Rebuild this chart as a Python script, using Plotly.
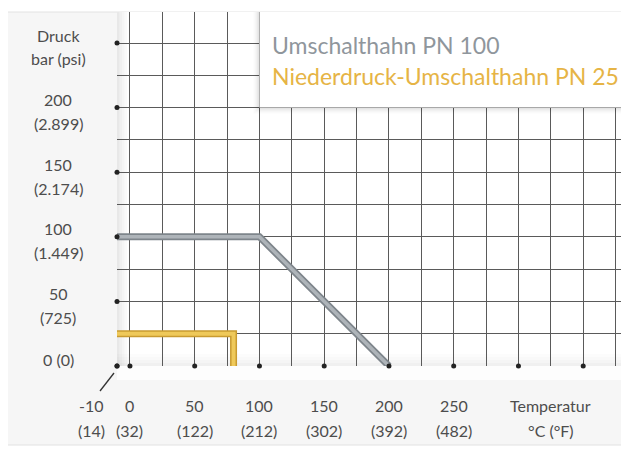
import plotly.graph_objects as go

# ---------------- data ----------------
temp_ticks = [-10, 0, 50, 100, 150, 200, 250]
temp_labels_c = ["-10", "0", "50", "100", "150", "200", "250"]
temp_labels_f = ["(14)", "(32)", "(122)", "(212)", "(302)", "(392)", "(482)"]
temp_dot_ticks = [-10, 0, 50, 100, 150, 200, 250, 300, 350]
temp_title = ["Temperatur", "°C (°F)"]
temp_title_at = 325

press_ticks = [0, 50, 100, 150, 200]
press_labels_bar = ["0 (0)", "50", "100", "150", "200"]
press_labels_psi = ["", "(725)", "(1.449)", "(2.174)", "(2.899)"]
press_dot_ticks = [0, 50, 100, 150, 200, 250]
press_title = ["Druck", "bar (psi)"]
press_title_at = 250

pn100_temp = [-10, 100, 200]
pn100_press = [100, 100, 0]
pn25_temp = [-10, 80, 80]
pn25_press = [25, 25, 0]
series_names = ["Umschalthahn PN 100", "Niederdruck-Umschalthahn PN 25"]

# ---------------- layout geometry (page pixels; page body has 8px margin) ----------------
OFF = 8
PAGE_W, PAGE_H = 629, 453
W, H = PAGE_W - OFF, PAGE_H - OFF
AX_LEFT, AX_TOP, AX_BOTTOM = 117, 12, 366      # page pixels
L, T = AX_LEFT - OFF, AX_TOP - OFF
B = PAGE_H - AX_BOTTOM
R = 0
PW, PH = W - L - R, H - T - B
X0 = -10
XPX = 1.295            # pixels per degree
YPX = 1.292            # pixels per bar
XMAX = X0 + PW / XPX
YMAX = PH / YPX

FONT = "Lato"
LABEL_COL = "#4d4d4d"
GRID_COL = "#5a5a5a"
FS = 16

def pxx(px):   # page x pixel -> paper
    return (px - AX_LEFT) / PW

def pxy(py):   # page y pixel -> paper
    return (AX_BOTTOM - py) / PH

fig = go.Figure()

# series: tube-like lines (dark outer + light inner)
fig.add_trace(go.Scatter(x=pn100_temp, y=pn100_press, mode="lines",
                         line=dict(color="#7e858b", width=7), name=series_names[0],
                         showlegend=False, hoverinfo="skip"))
fig.add_trace(go.Scatter(x=pn100_temp, y=pn100_press, mode="lines",
                         line=dict(color="#aeb4b9", width=3.5),
                         showlegend=False, hoverinfo="skip"))
fig.add_trace(go.Scatter(x=pn25_temp, y=pn25_press, mode="lines",
                         line=dict(color="#c99b30", width=7), name=series_names[1],
                         showlegend=False, hoverinfo="skip"))
fig.add_trace(go.Scatter(x=pn25_temp, y=pn25_press, mode="lines",
                         line=dict(color="#efc95a", width=4),
                         showlegend=False, hoverinfo="skip"))

# tick dots
fig.add_trace(go.Scatter(x=temp_dot_ticks, y=[0] * len(temp_dot_ticks), mode="markers",
                         marker=dict(color="#222222", size=5), cliponaxis=False,
                         showlegend=False, hoverinfo="skip"))
fig.add_trace(go.Scatter(x=[X0] * len(press_dot_ticks), y=press_dot_ticks, mode="markers",
                         marker=dict(color="#222222", size=5), cliponaxis=False,
                         showlegend=False, hoverinfo="skip"))

shapes = []
# light panel behind everything
shapes.append(dict(type="rect", xref="paper", yref="paper", layer="below",
                   x0=pxx(7.5), x1=pxx(PAGE_W + 2),
                   y0=pxy(445), y1=pxy(12),
                   fillcolor="#f6f6f6", line=dict(color="#e2e2e2", width=1)))
# white plot area
shapes.append(dict(type="rect", xref="paper", yref="paper", layer="below",
                   x0=0, x1=1, y0=0, y1=1, fillcolor="#ffffff", line=dict(width=0)))
# white floor just under the axis
shapes.append(dict(type="rect", xref="paper", yref="paper", layer="below",
                   x0=0, x1=1, y0=pxy(380), y1=0,
                   fillcolor="#fdfdfd", line=dict(width=0)))
# left wall shading
for i, op in enumerate([0.09, 0.06, 0.04, 0.02]):
    shapes.append(dict(type="rect", xref="paper", yref="paper", layer="below",
                       x0=pxx(AX_LEFT + i * 2.5), x1=pxx(AX_LEFT + (i + 1) * 2.5),
                       y0=0, y1=1, fillcolor=f"rgba(0,0,0,{op})", line=dict(width=0)))
# floor shading
for i, op in enumerate([0.06, 0.04, 0.025, 0.012]):
    shapes.append(dict(type="rect", xref="paper", yref="paper", layer="below",
                       x0=0, x1=1, y0=pxy(AX_BOTTOM - i * 3),
                       y1=pxy(AX_BOTTOM - (i + 1) * 3),
                       fillcolor=f"rgba(0,0,0,{op})", line=dict(width=0)))
# diagonal pointer to the -10 label
shapes.append(dict(type="line", xref="paper", yref="paper", layer="above",
                   x0=pxx(100), y0=pxy(391), x1=pxx(114), y1=pxy(373),
                   line=dict(color="#333333", width=1.3)))
# legend box shadow + box (anchored at 100 °C / 200 bar)
for i, op in enumerate([0.05, 0.035, 0.02]):
    d = (i + 1) * 2
    shapes.append(dict(type="rect", xref="x", yref="y", layer="above",
                       x0=100 - d / XPX, x1=XMAX, y0=200 - d / YPX, y1=YMAX,
                       fillcolor=f"rgba(0,0,0,{op})", line=dict(width=0)))
shapes.append(dict(type="rect", xref="x", yref="y", layer="above",
                   x0=100, x1=XMAX, y0=200, y1=YMAX,
                   fillcolor="#ffffff", line=dict(width=0)))

def label(x, y, text, xref, yref, **kw):
    d = dict(x=x, y=y, xref=xref, yref=yref, text=text, showarrow=False,
             xanchor="center", yanchor="middle",
             font=dict(size=FS, color=LABEL_COL, family=FONT))
    d.update(kw)
    return d

ann = []
# x labels
for t, c, f in zip(temp_ticks, temp_labels_c, temp_labels_f):
    xs = -26 if t < 0 else 0
    ann.append(label(t, pxy(405), c, "x", "paper", xshift=xs))
    ann.append(label(t, pxy(430), f, "x", "paper", xshift=xs))
ann.append(label(temp_title_at, pxy(405), temp_title[0], "x", "paper"))
ann.append(label(temp_title_at, pxy(430), temp_title[1], "x", "paper"))
# y labels
ylx = pxx(58)
for p, b, s in zip(press_ticks, press_labels_bar, press_labels_psi):
    if s:
        ann.append(label(ylx, p, b, "paper", "y", yshift=8))
        ann.append(label(ylx, p, s, "paper", "y", yshift=-16))
    else:
        ann.append(label(ylx, p, b, "paper", "y", yshift=7))
ann.append(label(ylx, press_title_at, press_title[0], "paper", "y", yshift=8))
ann.append(label(ylx, press_title_at, press_title[1], "paper", "y", yshift=-15))
# legend texts
leg_x = pxx(270)
ann.append(dict(x=leg_x, y=pxy(45), xref="paper", yref="paper", text=series_names[0],
                showarrow=False, xanchor="left", yanchor="middle",
                font=dict(size=23, color="#8f969c", family=FONT)))
ann.append(dict(x=leg_x, y=pxy(76), xref="paper", yref="paper", text=series_names[1],
                showarrow=False, xanchor="left", yanchor="middle",
                font=dict(size=23, color="#e6b445", family=FONT)))

fig.update_layout(
    width=W, height=H,
    margin=dict(l=L, r=R, t=T, b=B, pad=0),
    paper_bgcolor="#ffffff", plot_bgcolor="#ffffff",
    showlegend=False,
    shapes=shapes, annotations=ann,
    xaxis=dict(range=[X0, XMAX], tick0=0, dtick=25, showgrid=True, gridcolor=GRID_COL,
               gridwidth=1.2, showticklabels=False, ticks="", zeroline=False,
               showline=False, fixedrange=True),
    yaxis=dict(range=[0, YMAX], tick0=0, dtick=25, showgrid=True, gridcolor=GRID_COL,
               gridwidth=1.2, showticklabels=False, ticks="", zeroline=False,
               showline=False, fixedrange=True),
)

fig.write_html("out.html")
